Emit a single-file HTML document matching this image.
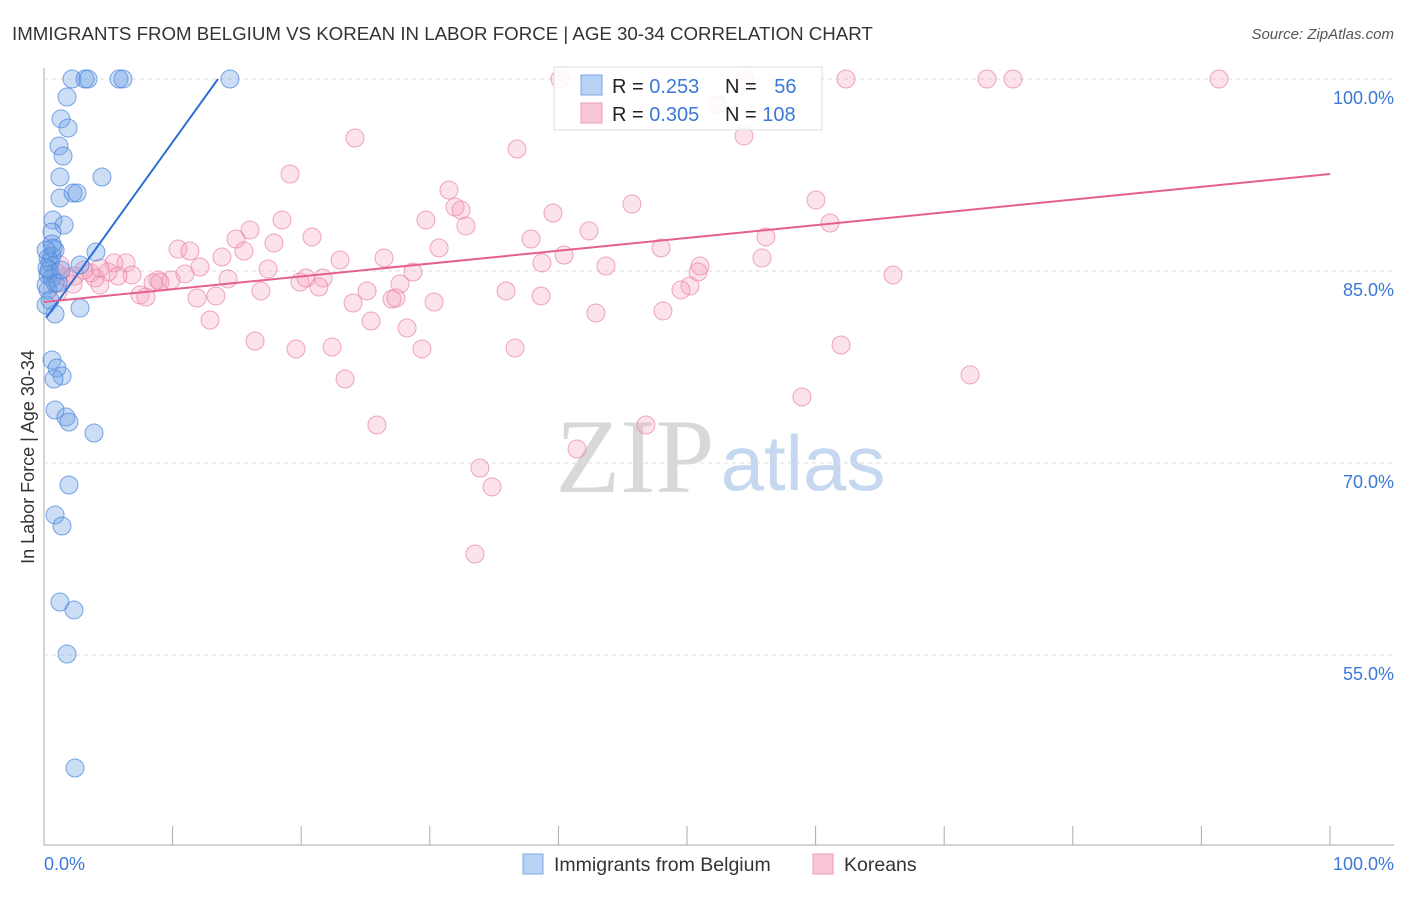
<!DOCTYPE html>
<html><head><meta charset="utf-8"><style>
body{margin:0;background:#fff;font-family:"Liberation Sans",sans-serif}
</style></head><body>
<svg id="chart" width="1406" height="892" xmlns="http://www.w3.org/2000/svg">
<text x="12" y="40" font-size="18.7" fill="#333">IMMIGRANTS FROM BELGIUM VS KOREAN IN LABOR FORCE | AGE 30-34 CORRELATION CHART</text>
<text x="1394" y="39" font-size="15" font-style="italic" fill="#555" text-anchor="end">Source: ZipAtlas.com</text>
<text transform="translate(34,457) rotate(-90)" font-size="18" fill="#333" text-anchor="middle">In Labor Force | Age 30-34</text>
<g><text x="635" y="492" font-family="Liberation Serif,serif" font-size="106" fill="#d8d8d8" text-anchor="middle">ZIP</text><text x="803" y="490" font-size="78" fill="#c5d8f0" text-anchor="middle">atlas</text></g>
<g id="grid"></g><g id="pts"></g><g id="lines"></g>
<g>
<rect x="554" y="67" width="268" height="63" fill="#fff" fill-opacity="0.85" stroke="#ddd"/>
<rect x="581" y="75" width="21" height="20" fill="#b7d2f5" stroke="#7aa8e6"/>
<rect x="581" y="103" width="21" height="20" fill="#f8c6d6" stroke="#eb9ab5"/>
<text x="612" y="93" font-size="20" fill="#222">R = <tspan fill="#3b78d8">0.253</tspan></text>
<text x="725" y="93" font-size="20" fill="#222">N = <tspan fill="#3b78d8" dx="12">56</tspan></text>
<text x="612" y="121" font-size="20" fill="#222">R = <tspan fill="#3b78d8">0.305</tspan></text>
<text x="725" y="121" font-size="20" fill="#222">N = <tspan fill="#3b78d8">108</tspan></text>
</g>
<g>
<rect x="523" y="854" width="20" height="20" fill="#b7d2f5" stroke="#7aa8e6"/>
<text x="554" y="871" font-size="19.5" fill="#333">Immigrants from Belgium</text>
<rect x="813" y="854" width="20" height="20" fill="#f8c6d6" stroke="#eb9ab5"/>
<text x="844" y="871" font-size="19.5" fill="#333">Koreans</text>
</g>
<text x="44" y="870" font-size="18" fill="#3b78d8">0.0%</text>
<text x="1394" y="870" font-size="18" fill="#3b78d8" text-anchor="end">100.0%</text>
</svg>
<script>
const yTicks=[100,85,70,55];
const yTickLabels=["100.0%","85.0%","70.0%","55.0%"];
const xTickVals=[0,10,20,30,40,50,60,70,80,90,100];
const blueX=[2.18,3.19,3.42,5.83,6.14,14.46,1.79,1.32,1.87,1.17,1.48,1.24,4.51,1.24,2.26,2.57,0.70,1.56,0.62,0.62,0.86,4.04,0.31,0.62,0.47,0.23,2.80,0.31,0.62,0.86,0.16,0.86,2.80,0.62,1.01,1.40,0.78,0.86,1.71,1.94,3.89,1.94,0.86,1.40,1.24,2.33,1.79,2.41,0.31,0.47,0.16,0.39,0.70,1.09,0.16,1.32];
const blueY=[100,100,100,100,100,100,98.59,96.88,96.17,94.77,93.98,92.34,92.34,90.70,91.09,91.09,88.98,88.59,88.05,87.11,86.64,86.48,86.02,86.17,85.70,85.23,85.47,84.69,84.45,84.06,82.34,81.64,82.11,78.05,77.42,76.80,76.56,74.14,73.59,73.20,72.34,68.28,65.94,65.08,59.14,58.52,55.08,46.17,83.52,82.73,83.91,85.08,86.80,84.06,86.64,85.08];
const pinkX=[40.12,62.36,73.33,75.35,91.37,54.51,52.33,54.43,24.18,36.78,19.13,31.49,45.72,31.96,32.43,60.03,39.58,29.70,32.81,61.12,18.51,16.02,14.93,20.84,37.87,17.88,56.14,42.38,10.42,11.35,30.72,47.98,13.84,15.55,40.44,38.72,23.02,26.44,12.13,5.44,6.38,17.42,10.96,6.84,4.98,28.69,43.70,51.01,50.86,55.83,66.02,3.65,2.41,1.63,3.97,8.86,9.02,9.88,8.48,14.31,19.91,20.37,21.70,21.38,27.68,25.12,35.93,38.65,50.23,49.53,7.47,7.93,11.90,13.37,16.87,27.06,27.37,24.03,30.33,42.92,48.13,12.91,25.43,28.23,16.41,19.60,22.40,29.39,36.63,61.98,23.41,72.01,58.94,25.89,46.81,41.45,33.90,34.84,33.51,1.09,0.93,1.24,2.26,4.35,3.11,5.75,4.35];
const pinkY=[100,100,100,100,100,99.92,97.97,95.55,95.39,94.53,92.58,91.33,90.23,90.00,89.77,90.55,89.53,88.98,88.52,88.75,88.98,88.20,87.50,87.66,87.50,87.19,87.66,88.13,86.72,86.56,86.80,86.80,86.09,86.56,86.25,85.63,85.86,86.02,85.31,85.63,85.63,85.16,84.77,84.69,84.92,84.92,85.39,85.39,84.92,86.02,84.69,84.84,84.61,84.53,84.45,84.30,84.14,84.30,84.06,84.38,84.14,84.45,84.45,83.75,83.98,83.44,83.44,83.05,83.83,83.52,83.13,82.97,82.89,83.05,83.44,82.81,82.89,82.50,82.58,81.72,81.88,81.17,81.09,80.55,79.53,78.91,79.06,78.91,78.98,79.22,76.56,76.88,75.16,72.97,72.97,71.09,69.61,68.13,62.89,83.36,84.92,85.47,83.98,83.91,85.08,84.61,85.23];
const blueTrend=[0.16,81.33,13.53,100];
const pinkTrend=[0,82.58,100,92.58];
const NS="http://www.w3.org/2000/svg";
const X0=44,X1=1330,Y100=79,PPU=12.8,BOTTOM=845;
function sx(v){return X0+(X1-X0)*v/100;}
function sy(v){return Y100+(100-v)*PPU;}
function mk(tag,attrs,parent){const e=document.createElementNS(NS,tag);for(const k in attrs)e.setAttribute(k,attrs[k]);parent.appendChild(e);return e;}
const grid=document.getElementById('grid');
const ax=mk('line',{x1:X0,y1:68,x2:X0,y2:BOTTOM,stroke:'#aaa'},grid);


const bx=mk('line',{x1:X0,y1:BOTTOM,x2:1394,y2:BOTTOM,stroke:'#aaa'},grid);


yTicks.forEach((t,i)=>{
 const g=mk('line',{x1:X0,y1:sy(t),x2:1394,y2:sy(t),stroke:'#ddd','stroke-dasharray':'4,4'},grid);
 
 
 const l=mk('text',{x:1394,y:sy(t)+25,'font-size':18,fill:'#3b78d8','text-anchor':'end'},grid);
 l.textContent=yTickLabels[i];
 
 
});
xTickVals.forEach(v=>{
 const t=mk('line',{x1:sx(v),y1:826,x2:sx(v),y2:BOTTOM,stroke:'#aaa'},grid);
 
 
});
const pts=document.getElementById('pts');
pinkX.forEach((x,i)=>{
 const c=mk('circle',{cx:sx(x),cy:sy(pinkY[i]),r:9,fill:'rgba(244,160,190,0.3)',stroke:'rgba(232,130,165,0.7)','stroke-width':1},pts);
 
 
});
blueX.forEach((x,i)=>{
 const c=mk('circle',{cx:sx(x),cy:sy(blueY[i]),r:9,fill:'rgba(110,160,230,0.35)',stroke:'rgba(70,130,220,0.7)','stroke-width':1},pts);
 
 
});
const lines=document.getElementById('lines');
const bl=mk('line',{x1:sx(blueTrend[0]),y1:sy(blueTrend[1]),x2:sx(blueTrend[2]),y2:sy(blueTrend[3]),stroke:'#2d6fd6','stroke-width':2},lines);


const pl=mk('line',{x1:sx(pinkTrend[0]),y1:sy(pinkTrend[1]),x2:sx(pinkTrend[2]),y2:sy(pinkTrend[3]),stroke:'#e5608f','stroke-width':2},lines);


</script>
</body></html>
